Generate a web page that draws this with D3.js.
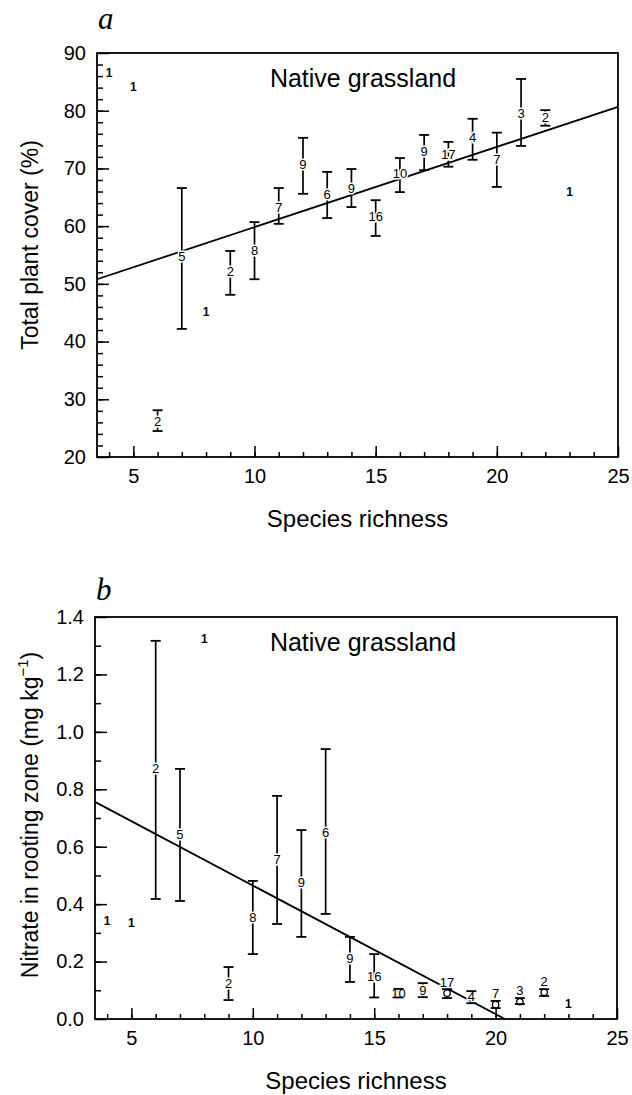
<!DOCTYPE html>
<html><head><meta charset="utf-8">
<script src="https://cdn.jsdelivr.net/npm/d3@7/dist/d3.min.js"></script>
<style>body{margin:0;background:#fff} svg{display:block}</style>
</head><body>
<svg id="c" width="632" height="1095"></svg>
<script>
// ---------- data ----------
const richness = [4,5,6,7,8,9,10,11,12,13,14,15,16,17,18,19,20,21,22,23];
const plotsN   = [1,1,2,5,1,2,8,7,9,6,9,16,10,9,17,4,7,3,2,1];

const coverMean = [86.5,84.1,26.2,54.7,45.1,52.1,55.7,63.3,70.6,65.4,66.6,61.6,69.2,72.9,72.5,75.3,71.5,79.6,78.8,65.9];
const coverHigh = [null,null,28.1,66.6,null,55.7,60.7,66.6,75.3,69.4,69.9,64.5,71.8,75.8,74.6,78.6,76.2,85.5,80.1,null];
const coverLow  = [null,null,24.5,42.2,null,48.1,50.8,60.4,65.6,61.4,63.3,58.3,65.9,69.7,70.3,71.5,66.8,73.9,77.4,null];
const coverFit  = {intercept:45.93, slope:1.39};
const coverTicks = [20,30,40,50,60,70,80,90];

const nitrateMean = [0.341,0.334,0.871,0.641,1.324,0.125,0.352,0.554,0.474,0.651,0.209,0.147,0.090,0.100,0.090,0.077,0.050,0.060,0.093,0.052];
const nitrateHigh = [null,null,1.317,0.871,null,0.181,0.481,0.777,0.658,0.940,0.286,0.226,0.105,0.125,0.104,0.097,0.063,0.073,0.104,null];
const nitrateLow  = [null,null,0.418,0.411,null,0.066,0.226,0.331,0.286,0.366,0.129,0.075,0.075,0.076,0.073,0.055,0.038,0.052,0.080,null];
const nitrateFit  = {intercept:0.913, slope:-0.0448};
const nitrateTicks = [0,0.2,0.4,0.6,0.8,1.0,1.2,1.4];
const nitrateLifted = [18,20,21,22]; // points whose count label sits above an open marker

const xTicks = [5,10,15,20,25];

// ---------- drawing ----------
const svg = d3.select('#c');
const FONT = "'Liberation Sans', Arial, Helvetica, sans-serif";

function panel(o){
  const x = d3.scaleLinear().domain([3.5,25]).range([o.left,o.right]);
  const y = d3.scaleLinear().domain(o.yDomain).range([o.bottom,o.top]);
  const g = svg.append('g');

  // minor x ticks
  g.append('g').attr('transform',`translate(0,${o.bottom})`)
    .call(d3.axisBottom(x).tickValues(d3.range(4,25,1)).tickSizeInner(-5).tickSizeOuter(0).tickFormat(''))
    .call(s=>s.select('.domain').remove());
  // major x ticks
  g.append('g').attr('transform',`translate(0,${o.bottom})`)
    .call(d3.axisBottom(x).tickValues(xTicks).tickSizeInner(-11).tickSizeOuter(0).tickPadding(12).tickFormat(d3.format('d')))
    .call(s=>s.select('.domain').remove())
    .call(s=>s.selectAll('text').attr('font-size',20).attr('font-family',FONT).attr('fill','#000'));
  // minor y ticks
  g.append('g').attr('transform',`translate(${o.left},0)`)
    .call(d3.axisLeft(y).tickValues(o.yMinor).tickSizeInner(-6).tickSizeOuter(0).tickFormat(''))
    .call(s=>s.select('.domain').remove());
  // major y ticks
  g.append('g').attr('transform',`translate(${o.left},0)`)
    .call(d3.axisLeft(y).tickValues(o.yTicks).tickSizeInner(-12).tickSizeOuter(0).tickPadding(11).tickFormat(o.yFormat))
    .call(s=>s.select('.domain').remove())
    .call(s=>s.selectAll('text').attr('font-size',20).attr('font-family',FONT).attr('fill','#000'));
  g.selectAll('.tick line').attr('stroke','#000').attr('stroke-width',1.5);

  // frame
  g.append('rect').attr('x',o.left).attr('y',o.top)
    .attr('width',o.right-o.left).attr('height',o.bottom-o.top)
    .attr('fill','none').attr('stroke','#000').attr('stroke-width',1.8);

  // regression line
  const f = v => o.fit.intercept + o.fit.slope*v;
  let x1 = 25;
  if (f(25) < o.yDomain[0]) x1 = (o.yDomain[0]-o.fit.intercept)/o.fit.slope;
  g.append('line').attr('x1',x(3.5)).attr('y1',y(f(3.5))).attr('x2',x(x1)).attr('y2',y(f(x1)))
    .attr('stroke','#000').attr('stroke-width',1.8);

  // points
  const pts = richness.map((r,i)=>({r, n:plotsN[i], m:o.mean[i], hi:o.high[i], lo:o.low[i]}));
  const bars = pts.filter(d=>d.hi!=null);
  const cap = 5;
  g.selectAll('.eb').data(bars).join('line').attr('class','eb')
    .attr('x1',d=>x(d.r)).attr('x2',d=>x(d.r)).attr('y1',d=>y(d.lo)).attr('y2',d=>y(d.hi))
    .attr('stroke','#000').attr('stroke-width',1.7);

  const lifted = o.lifted || [];
  g.selectAll('.mk').data(bars.filter(d=>lifted.includes(d.r))).join('circle').attr('class','mk')
    .attr('cx',d=>x(d.r)).attr('cy',d=>y(d.m)).attr('r',3.2)
    .attr('fill','#fff').attr('stroke','#000').attr('stroke-width',1.3);

  g.selectAll('.lab').data(bars).join('text').attr('class','lab')
    .attr('x',d=>x(d.r)).attr('y',d=>y(d.m) - (lifted.includes(d.r)?11:0))
    .attr('text-anchor','middle').attr('dominant-baseline','central')
    .attr('font-family',FONT).attr('font-size',13)
    .attr('fill','#000').attr('stroke','#fff').attr('stroke-width',3).attr('paint-order','stroke')
    .text(d=>d.n);

  g.selectAll('.capT').data(bars).join('line').attr('class','capT')
    .attr('x1',d=>x(d.r)-cap).attr('x2',d=>x(d.r)+cap).attr('y1',d=>y(d.hi)).attr('y2',d=>y(d.hi))
    .attr('stroke','#000').attr('stroke-width',1.8);
  g.selectAll('.capB').data(bars).join('line').attr('class','capB')
    .attr('x1',d=>x(d.r)-cap).attr('x2',d=>x(d.r)+cap).attr('y1',d=>y(d.lo)).attr('y2',d=>y(d.lo))
    .attr('stroke','#000').attr('stroke-width',1.8);

  g.selectAll('.single').data(pts.filter(d=>d.hi==null)).join('text').attr('class','single')
    .attr('x',d=>x(d.r)).attr('y',d=>y(d.m))
    .attr('text-anchor','middle').attr('dominant-baseline','central')
    .attr('font-family',FONT).attr('font-size',12).attr('font-weight','bold')
    .text(d=>d.n);

  // texts
  g.append('text').attr('x',363).attr('y',o.top+25).attr('text-anchor','middle')
    .attr('dominant-baseline','central').attr('font-family',FONT).attr('font-size',25).text('Native grassland');
  g.append('text').attr('x',o.left+1).attr('y',o.letterY).attr('font-family',"'Liberation Serif', 'Times New Roman', serif")
    .attr('font-style','italic').attr('font-size',31).text(o.letter);
  g.append('text').attr('x',(o.left+o.right)/2).attr('y',o.bottom+61).attr('text-anchor','middle')
    .attr('dominant-baseline','central').attr('font-family',FONT).attr('font-size',24).text('Species richness');
  const yt = g.append('text').attr('transform',`translate(30,${o.titleY}) rotate(-90)`)
    .attr('text-anchor','middle').attr('dominant-baseline','central')
    .attr('font-family',FONT).attr('font-size',23);
  o.yTitle(yt);
}

panel({letter:'a', letterY:29, left:97, right:618, top:53, bottom:457, yDomain:[20,90], titleY:245,
  yTicks:coverTicks, yMinor:d3.range(22,90,2), yFormat:d3.format('d'),
  mean:coverMean, high:coverHigh, low:coverLow, fit:coverFit,
  yTitle:t=>t.text('Total plant cover (%)')});

panel({letter:'b', letterY:600, left:95, right:617, top:617, bottom:1019, yDomain:[0,1.4], titleY:815,
  yTicks:nitrateTicks, yMinor:d3.range(1,14,1).map(v=>v/10), yFormat:d3.format('.1f'),
  mean:nitrateMean, high:nitrateHigh, low:nitrateLow, fit:nitrateFit, lifted:nitrateLifted,
  yTitle:t=>{ t.append('tspan').text('Nitrate in rooting zone (mg kg');
              t.append('tspan').attr('dy',-8).attr('font-size',15).text('\u22121');
              t.append('tspan').attr('dy',8).text(')'); }});
</script>
</body></html>
